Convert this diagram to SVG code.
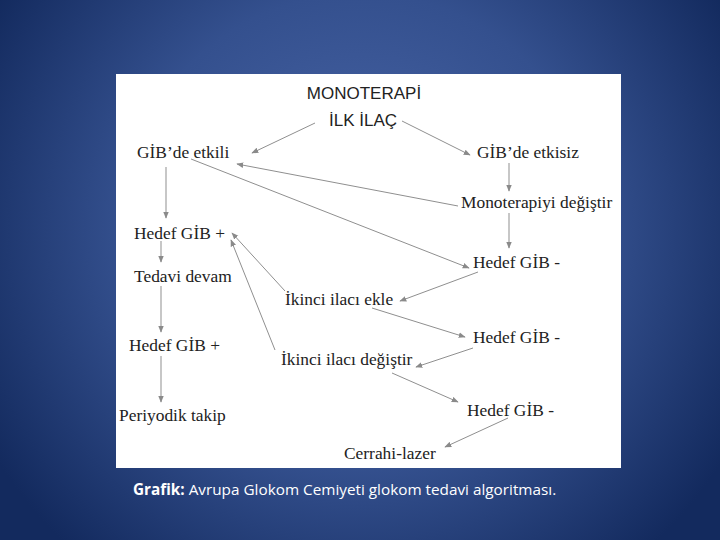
<svg xmlns="http://www.w3.org/2000/svg" width="720" height="540" viewBox="0 0 720 540">
<defs>
<radialGradient id="bg" cx="360" cy="230" r="430" gradientUnits="userSpaceOnUse">
<stop offset="0" stop-color="#4b67a9"/>
<stop offset="0.55" stop-color="#34508e"/>
<stop offset="1" stop-color="#132a5e"/>
</radialGradient>
<marker id="ah" viewBox="0 0 10 10" refX="9" refY="5" markerWidth="7" markerHeight="7" markerUnits="userSpaceOnUse" orient="auto">
<path d="M0,1 L10,5 L0,9 Z" fill="#8a8a8a"/>
</marker>
<style>
.s{font-family:"Liberation Sans",Arial,sans-serif;font-size:17px;fill:#222}
.t{font-family:"Liberation Serif","Times New Roman",serif;font-size:17.4px;fill:#222}
.c line{stroke:#8f8f8f;stroke-width:1;marker-end:url(#ah)}
.cap{font-family:"Open Sans","Noto Sans",sans-serif;font-size:15.3px;fill:#fff}
</style>
</defs>
<rect width="720" height="540" fill="url(#bg)"/>
<rect x="116" y="74" width="505" height="394" fill="#fff"/>
<g class="c">
<line x1="315" y1="123" x2="252" y2="153"/>
<line x1="402" y1="121" x2="470" y2="155"/>
<line x1="166" y1="167" x2="166" y2="218"/>
<line x1="509" y1="163" x2="509" y2="191"/>
<line x1="191" y1="159" x2="469" y2="268"/>
<line x1="458" y1="206" x2="237" y2="164"/>
<line x1="509" y1="213" x2="509" y2="248"/>
<line x1="161" y1="241" x2="161" y2="262"/>
<line x1="478" y1="272" x2="400" y2="301"/>
<line x1="285" y1="291" x2="232" y2="233"/>
<line x1="275" y1="350" x2="231" y2="240"/>
<line x1="161" y1="286" x2="161" y2="332"/>
<line x1="372" y1="308" x2="465" y2="337"/>
<line x1="473" y1="348" x2="416" y2="367"/>
<line x1="161" y1="356" x2="161" y2="402"/>
<line x1="392" y1="373" x2="458" y2="402"/>
<line x1="508" y1="418" x2="445" y2="447"/>
</g>
<g id="n-mono"><text class="s" x="364" y="99" text-anchor="middle">MONOTERAPİ</text></g>
<g id="n-ilk"><text class="s" x="363" y="126" text-anchor="middle">İLK İLAÇ</text></g>
<g id="n-etkili"><text class="t" x="137" y="158">GİB’de etkili</text></g>
<g id="n-etkisiz"><text class="t" x="477" y="158">GİB’de etkisiz</text></g>
<g id="n-monodeg"><text class="t" x="461" y="208">Monoterapiyi değiştir</text></g>
<g id="n-hp1"><text class="t" x="134" y="239">Hedef GİB +</text></g>
<g id="n-hm1"><text class="t" x="473" y="268">Hedef GİB -</text></g>
<g id="n-tedavi"><text class="t" x="134" y="282">Tedavi devam</text></g>
<g id="n-ekle"><text class="t" x="285" y="305">İkinci ilacı ekle</text></g>
<g id="n-hm2"><text class="t" x="473" y="343">Hedef GİB -</text></g>
<g id="n-hp2"><text class="t" x="129" y="351">Hedef GİB +</text></g>
<g id="n-ikdeg"><text class="t" x="281" y="365">İkinci ilacı değiştir</text></g>
<g id="n-periyodik"><text class="t" x="119" y="421">Periyodik takip</text></g>
<g id="n-hm3"><text class="t" x="467" y="416">Hedef GİB -</text></g>
<g id="n-cerrahi"><text class="t" x="344" y="459">Cerrahi-lazer</text></g>
<text class="cap" x="133" y="495"><tspan font-weight="bold">Grafik:</tspan> Avrupa Glokom Cemiyeti glokom tedavi algoritması.</text>
</svg>
